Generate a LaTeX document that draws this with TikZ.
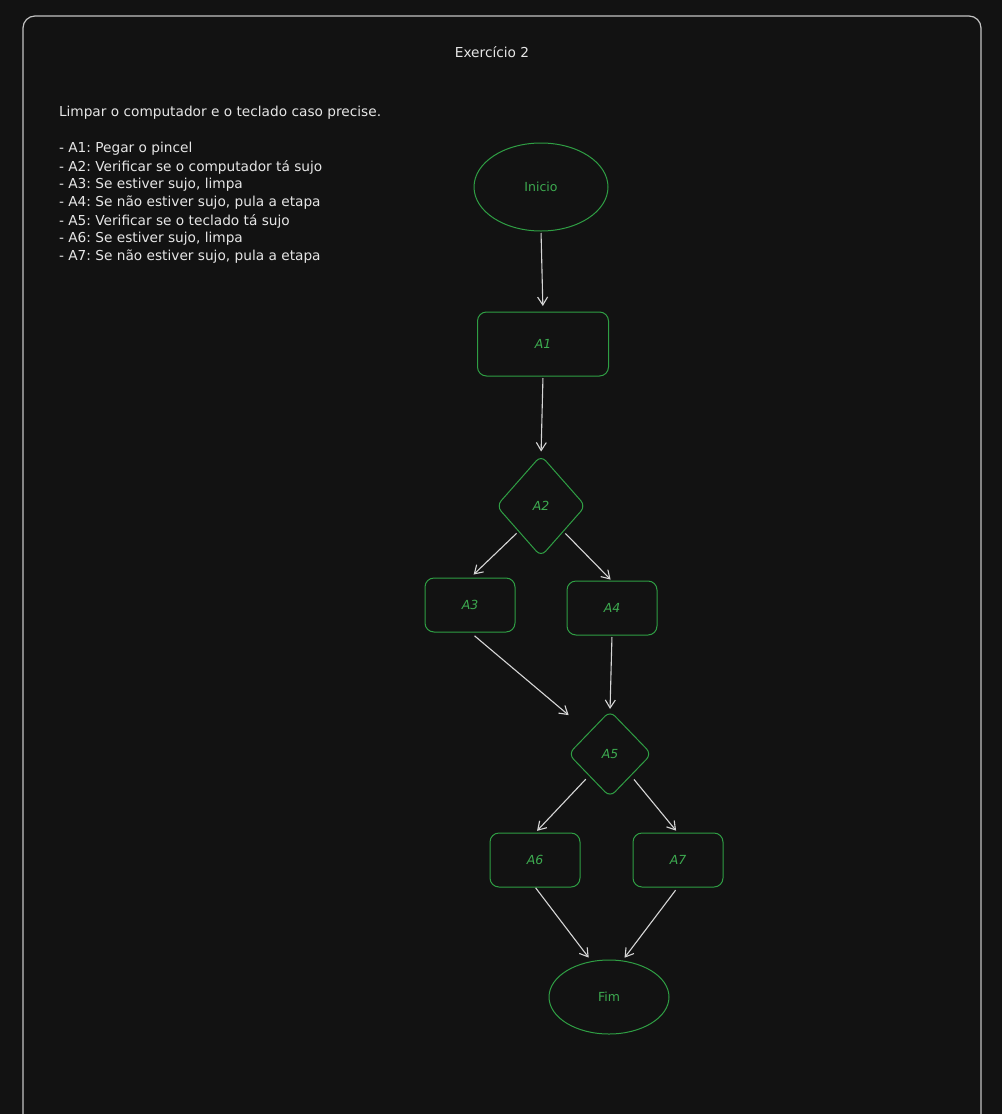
\documentclass[tikz,border=0pt]{standalone}
\usepackage{fontspec}
\setmainfont{DejaVu Sans}
\usetikzlibrary{shapes.geometric,arrows.meta}
\definecolor{bg}{HTML}{121212}
\definecolor{frame}{HTML}{C4C4C4}
\definecolor{grn}{HTML}{2F9E44}
\definecolor{grntxt}{HTML}{3DAA50}
\definecolor{arr}{HTML}{D6D6D6}
\definecolor{txt}{HTML}{E6E6E6}
\tikzset{
  every node/.style={inner sep=0pt, outer sep=0pt},
  boxnode/.style={draw=grn, line width=1pt, rounded corners=9pt, text=grntxt,
    font=\fontsize{12.5}{15}\selectfont\itshape},
  ovalnode/.style={ellipse, draw=grn, line width=1pt, text=grntxt,
    font=\fontsize{12.5}{15}\selectfont},
  decnode/.style={diamond, draw=grn, line width=1pt, rounded corners=7pt, text=grntxt,
    font=\fontsize{12.5}{15}\selectfont\itshape},
  flow/.style={draw=arr, line width=1.1pt, -{Straight Barb[length=8pt,width=10pt]}},
  plain/.style={text=txt, font=\fontsize{13.7}{16}\selectfont\frenchspacing},
}
\begin{document}
\begin{tikzpicture}[x=1pt,y=-1pt]
\useasboundingbox (0,0) rectangle (1002,1114);
\fill[bg] (0,0) rectangle (1002,1114);
\begin{scope}
\clip (0,0) rectangle (1002,1114);
\draw[frame, line width=1.2pt, rounded corners=12pt] (23,16) rectangle (981,1140);
\end{scope}

\node[plain] (title) at (492,52) {Exercício 2};

\foreach \t/\yy [count=\i] in {
  {Limpar o computador e o teclado caso precise.}/113,
  {- A1: Pegar o pincel}/149,
  {- A2: Verificar se o computador tá sujo}/167,
  {- A3: Se estiver sujo, limpa}/185,
  {- A4: Se não estiver sujo, pula a etapa}/203,
  {- A5: Verificar se o teclado tá sujo}/221,
  {- A6: Se estiver sujo, limpa}/239,
  {- A7: Se não estiver sujo, pula a etapa}/257}
  \node[plain, anchor=west] (line\i) at (59,\yy) {\t};

\node[ovalnode, minimum width=134pt, minimum height=88pt] (inicio) at (541,187) {Inicio};
\node[boxnode, minimum width=131pt, minimum height=64pt] (a1) at (543,344) {A1};
\node[decnode, minimum width=89pt, minimum height=101pt] (a2) at (541,506) {A2};
\node[boxnode, minimum width=90pt, minimum height=54pt] (a3) at (470,605) {A3};
\node[boxnode, minimum width=90pt, minimum height=54pt] (a4) at (612,608) {A4};
\node[decnode, minimum width=83pt, minimum height=86pt] (a5) at (610,754) {A5};
\node[boxnode, minimum width=90pt, minimum height=54pt] (a6) at (535,860) {A6};
\node[boxnode, minimum width=90pt, minimum height=54pt] (a7) at (678,860) {A7};
\node[ovalnode, minimum width=120pt, minimum height=74pt] (fim) at (609,997) {Fim};

\draw[flow, shorten <=2pt, shorten >=6pt] (inicio.south) -- (a1.north);
\draw[flow, shorten <=2pt, shorten >=4pt] (a1.south) -- (a2.north);
\draw[flow, shorten <=3pt, shorten >=5pt] (a2.south west) -- (a3.north);
\draw[flow, shorten <=3pt, shorten >=2pt] (a2.south east) -- (a4.north);
\draw[flow, shorten <=6pt, shorten >=27pt] (a3.south) -- (a5.north west);
\draw[flow, shorten <=2pt, shorten >=2pt] (a4.south) -- (a5.north);
\draw[flow, shorten <=5pt, shorten >=3pt] (a5.south west) -- (a6.north);
\draw[flow, shorten <=5pt, shorten >=3pt] (a5.south east) -- (a7.north);
\draw[flow, shorten <=1pt, shorten >=5pt] (a6.south) -- (fim.116);
\draw[flow, shorten <=4pt, shorten >=4pt] (a7.south) -- (fim.70);
\end{tikzpicture}
\end{document}
